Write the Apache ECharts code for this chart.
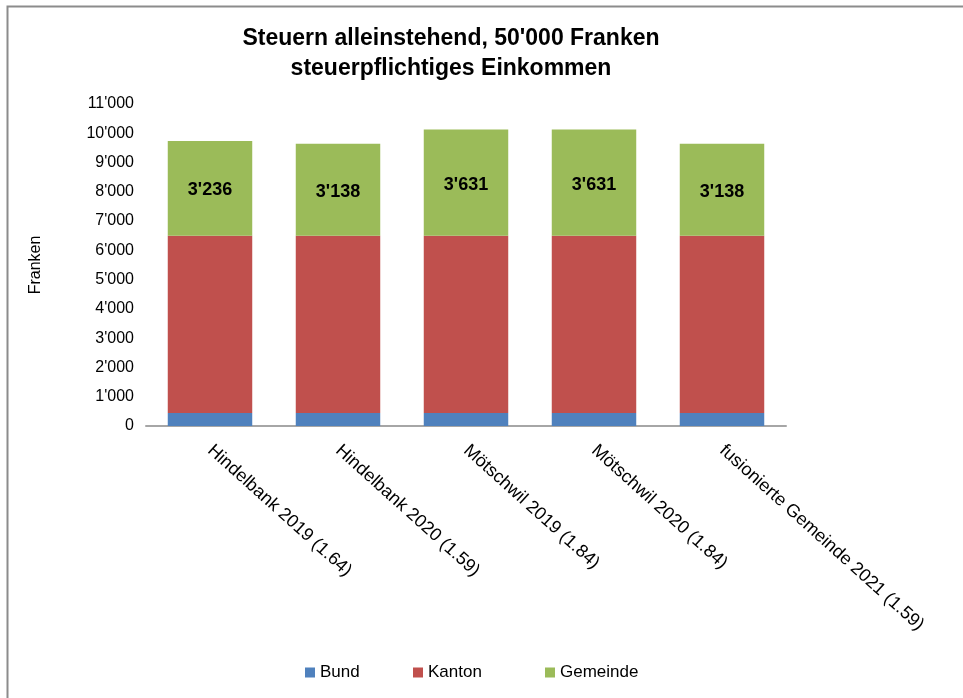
<!DOCTYPE html>
<html><head><meta charset="utf-8">
<script src="https://cdn.jsdelivr.net/npm/echarts@6/dist/echarts.min.js"></script>
<style>html,body{margin:0;padding:0;background:#fff}#c{width:963px;height:698px}</style>
</head><body><div id="c"></div>
<script>
const categories = ['Hindelbank 2019 (1.64)','Hindelbank 2020 (1.59)','Mötschwil 2019 (1.84)','Mötschwil 2020 (1.84)','fusionierte Gemeinde 2021 (1.59)'];
const seriesNames = ['Bund','Kanton','Gemeinde'];
const bund = [440, 440, 440, 440, 440];
const kanton = [6060, 6060, 6060, 6060, 6060];
const gemeinde = [3236, 3138, 3631, 3631, 3138];
const yTicks = [0,1000,2000,3000,4000,5000,6000,7000,8000,9000,10000,11000];

function fmt(v){ return String(Math.round(v)).replace(/\B(?=(\d{3})+(?!\d))/g, "'"); }
const F = "'Liberation Sans', Arial, sans-serif";
const legendLeft = [300, 408, 540];
const chart = echarts.init(document.getElementById('c'), null, {renderer:'canvas'});
chart.setOption({
  animation:false,
  backgroundColor:'#fff',
  graphic:[{type:'rect', shape:{x:7.5,y:6.5,width:1000,height:1000}, style:{fill:'none', stroke:'#8c8c8c', lineWidth:2}}],
  title:{
    text:"Steuern alleinstehend, 50'000 Franken\nsteuerpflichtiges Einkommen",
    left:446, top:19, textAlign:'center',
    textStyle:{fontFamily:F, fontWeight:'bold', fontSize:23, lineHeight:30, color:'#000'}
  },
  legend: seriesNames.map((n,i)=>({
    data:[n], left:legendLeft[i], top:659, itemWidth:10, itemHeight:10,
    icon:'rect', textStyle:{fontFamily:F, fontSize:17, color:'#000'}
  })),
  grid:{left:146, right:177, top:104, bottom:272, containLabel:false},
  xAxis:{
    type:'category', data:categories,
    axisLine:{show:true, lineStyle:{color:'#a6a6a6', width:2}},
    axisTick:{show:false},
    axisLabel:{rotate:-42, interval:0, margin:22, fontFamily:F, fontSize:18, color:'#000'}
  },
  yAxis:{
    type:'value', min:yTicks[0], max:yTicks[yTicks.length-1], interval:1000,
    name:'Franken', nameLocation:'middle', nameGap:102, nameRotate:90,
    nameTextStyle:{fontFamily:F, fontSize:16, color:'#000'},
    axisLine:{show:false}, axisTick:{show:false}, splitLine:{show:false},
    axisLabel:{fontFamily:F, fontSize:16, color:'#000', margin:12, formatter:fmt}
  },
  series:[
    {name:'Bund', type:'bar', stack:'s', data:bund, barCategoryGap:'34%', itemStyle:{color:'#4F81BD'}},
    {name:'Kanton', type:'bar', stack:'s', data:kanton, itemStyle:{color:'#C0504D'}},
    {name:'Gemeinde', type:'bar', stack:'s', data:gemeinde, itemStyle:{color:'#9BBB59'},
     label:{show:true, position:'inside', offset:[0,2], formatter:p=>fmt(p.value), fontFamily:F, fontWeight:'bold', fontSize:18, color:'#000'}}
  ]
});
</script></body></html>
